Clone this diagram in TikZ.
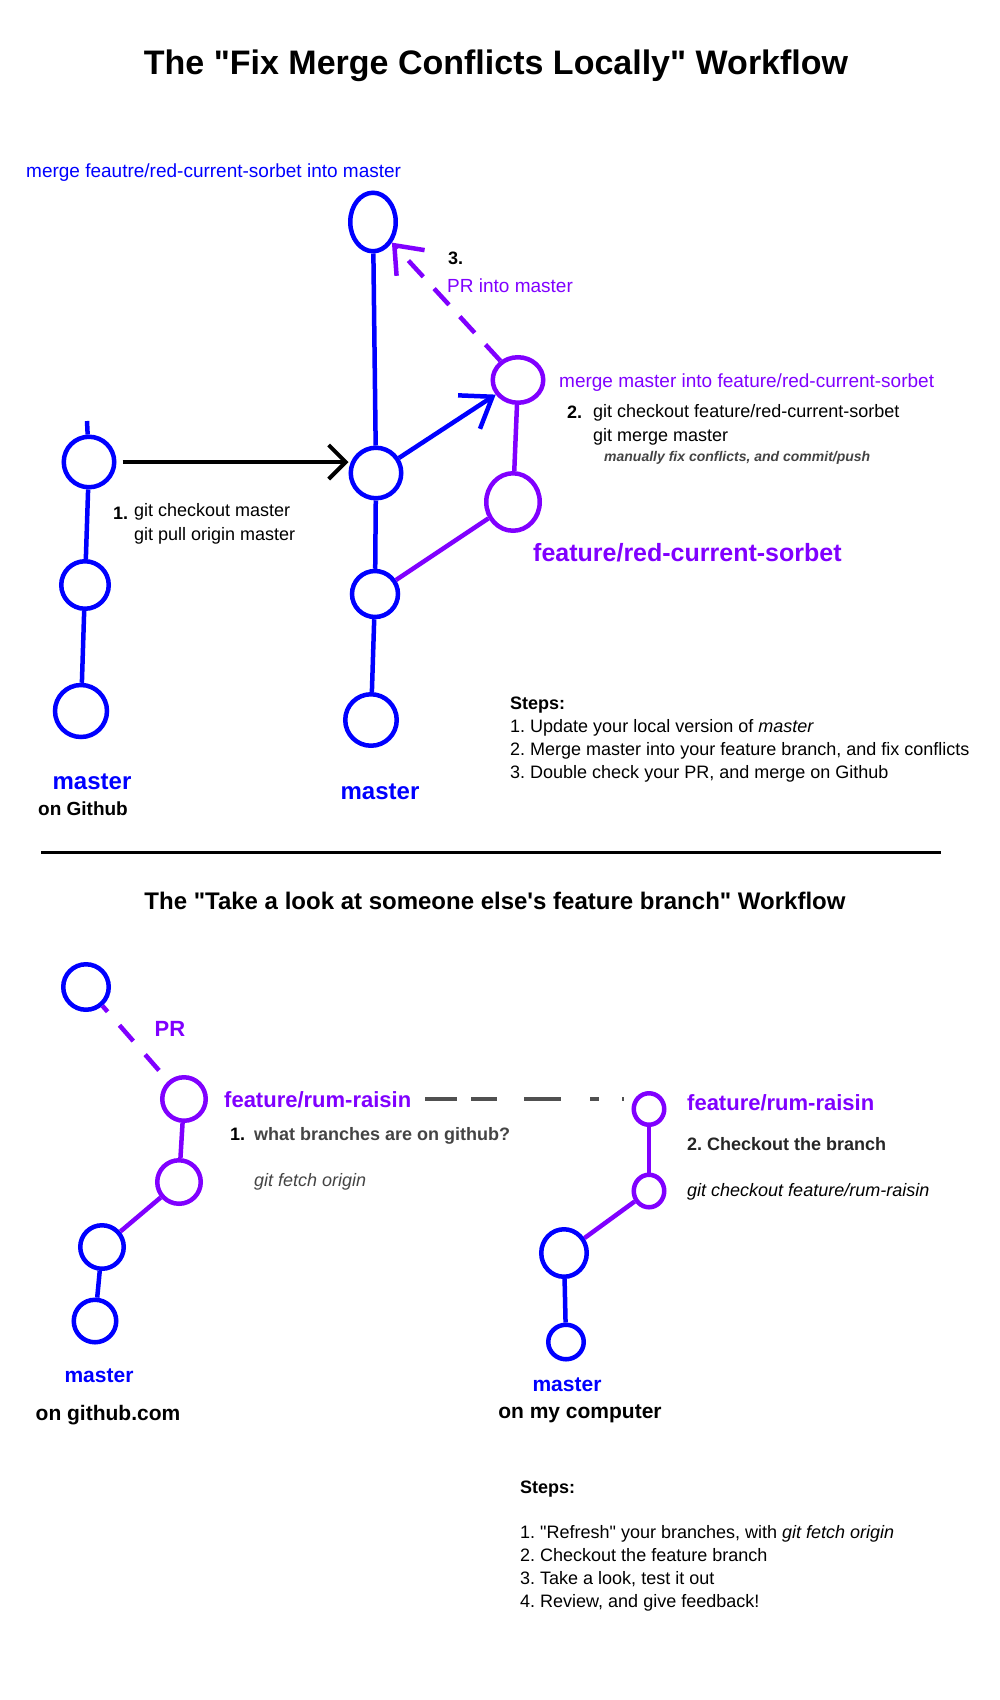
\documentclass[tikz,border=0pt]{standalone}
\usepackage{fontspec}
\setmainfont{Liberation Sans}
\usetikzlibrary{arrows.meta,positioning,shapes.geometric}
\definecolor{gitblue}{HTML}{0000FF}
\definecolor{gitpurple}{HTML}{8000FF}
\definecolor{notegray}{HTML}{444444}
\definecolor{dashgray}{HTML}{505050}
\frenchspacing
\tikzset{
commit/.style={
  ellipse,
  line width=4.5pt,
  inner sep=0pt,
  draw=#1,
  },
commit/.default=gitblue
}
\tikzset{
branchline/.style={
  line width=4.5pt,
  draw=#1,
  },
branchline/.default=gitblue
}
\tikzset{
note/.style={
  inner sep=0pt,
  anchor=base west,
  align=left,
  font=\fontsize{18}{24}\selectfont,
  },
label/.style={
  inner sep=0pt,
  anchor=base west,
  font=\fontsize{19}{23}\selectfont,
  },
branchname/.style={
  inner sep=0pt,
  anchor=base,
  font=\bfseries\fontsize{#1}{#1}\selectfont,
  }
}
\newcommand{\dq}{\textquotedbl}

\begin{document}
\begin{tikzpicture}[x=1pt, y=-1pt]
    \fill[white] (0,0) rectangle (1000,1700);

    % titles
    \node[branchname=34] (title_fix) at (496,74) {The \dq Fix Merge Conflicts Locally\dq{} Workflow};
    \node[branchname=24] (title_look) at (495,909) {The \dq Take a look at someone else\textquotesingle s feature branch\dq{} Workflow};
    \draw[line width=3pt] (41,852) -- (941,852);

    % master on github
    \node[commit, minimum width=50.5pt, minimum height=50.5pt] (gh_c3) at (89,462) {};
    \node[commit, minimum width=47.5pt, minimum height=47.5pt] (gh_c2) at (85,585) {};
    \node[commit, minimum width=52pt, minimum height=52pt] (gh_c1) at (81,711) {};
    \coordinate (gh_top) at (87,421);
    \node[branchname=24, text=gitblue] (gh_name) at (92,789) {master};
    \node[branchname=19] (gh_where) at (83,815) {on Github};

    % local master
    \node[commit, minimum width=45.5pt, minimum height=58.5pt] (loc_c4) at (373,222) {};
    \node[commit, minimum width=50.5pt, minimum height=50.5pt] (loc_c3) at (376,473) {};
    \node[commit, minimum width=46pt, minimum height=46pt] (loc_c2) at (375,594) {};
    \node[commit, minimum width=51.5pt, minimum height=51.5pt] (loc_c1) at (371,720) {};
    \node[branchname=24, text=gitblue] (loc_name) at (380,799) {master};

    % feature branch
    \node[commit=gitpurple, minimum width=53.5pt, minimum height=57.5pt] (feat_c1) at (513,502) {};
    \node[commit=gitpurple, minimum width=50.5pt, minimum height=45.5pt] (feat_c2) at (518,380) {};
    \node[branchname=25, text=gitpurple, anchor=base west] (feat_name) at (533,561) {feature/red-current-sorbet};

    % labels
    \node[label, text=gitblue] (merge_into_master) at (26,177) {merge feautre/red-current-sorbet into master};
    \node[label, text=gitpurple] (merge_into_feat) at (559,387) {merge master into feature/red-current-sorbet};
    \node[label, text=gitpurple] (pr_label) at (447,292) {PR into master};
    \node[note, font=\bfseries\fontsize{18}{24}\selectfont] (step3_num) at (448,264) {3.};
    \node[note, font=\bfseries\fontsize{18}{24}\selectfont] (step1_num) at (113,519) {1.};
    \node[note] (step1_cmd) at (134,540) {git checkout master\\git pull origin master};
    \node[note, font=\bfseries\fontsize{18}{24}\selectfont] (step2_num) at (567,418) {2.};
    \node[note] (step2_cmd) at (593,441) {git checkout feature/red-current-sorbet\\git merge master};
    \node[note, text=notegray, font=\bfseries\itshape\fontsize{14}{16}\selectfont] (step2_hint) at (604,461) {manually fix conflicts, and commit/push};
    \node[note, font=\fontsize{18}{22.7}\selectfont] (steps_fix) at (510,778) {\textbf{Steps:}\\
      1. Update your local version of \textit{master}\\
      2. Merge master into your feature branch, and fix conflicts\\
      3. Double check your PR, and merge on Github};

    % edges
    \draw[branchline] (gh_top) -- (gh_c3);
    \draw[branchline] (gh_c3) -- (gh_c2);
    \draw[branchline] (gh_c2) -- (gh_c1);
    \draw[branchline] (loc_c4) -- (loc_c3);
    \draw[branchline] (loc_c3) -- (loc_c2);
    \draw[branchline] (loc_c2) -- (loc_c1);
    \draw[branchline=gitpurple] (loc_c2) -- (feat_c1);
    \draw[branchline=gitpurple] (feat_c1) -- (feat_c2);
    \draw[line width=4pt, shorten <=6pt, -{Straight Barb[length=17pt, width=34pt]}] (gh_c3.east) -- (gh_c3.east -| loc_c3.west);
    \draw[branchline, -{Straight Barb[length=28pt, width=40pt]}] (loc_c3) -- (feat_c2);
    \draw[branchline=gitpurple, dash pattern=on 22pt off 16pt, -{Straight Barb[length=24pt, width=38pt]}] (feat_c2) -- (loc_c4);

    % github.com
    \node[commit, minimum width=45.5pt, minimum height=45.5pt] (web_c3) at (86,987) {};
    \node[commit=gitpurple, minimum width=43.5pt, minimum height=43.5pt] (rum_c2) at (184,1099) {};
    \node[commit=gitpurple, minimum width=43.5pt, minimum height=43.5pt] (rum_c1) at (179,1182) {};
    \node[commit, minimum width=43.5pt, minimum height=43.5pt] (web_c2) at (102,1247) {};
    \node[commit, minimum width=42.5pt, minimum height=42.5pt] (web_c1) at (95,1321) {};
    \node[branchname=22, text=gitpurple] (pr_name) at (170,1036) {PR};
    \node[branchname=22, text=gitpurple, anchor=base west] (rum_name) at (224,1107) {feature/rum-raisin};
    \node[branchname=21, text=gitblue] (web_name) at (99,1382) {master};
    \node[branchname=21] (web_where) at (108,1420) {on github.com};
    \node[note, font=\bfseries\fontsize{18}{24}\selectfont] (fetch_num) at (230,1140) {1.};
    \node[note, text=notegray, font=\bfseries\fontsize{18}{24}\selectfont] (fetch_ask) at (254,1140) {what branches are on github?};
    \node[note, text=notegray, font=\itshape\fontsize{18}{24}\selectfont] (fetch_cmd) at (254,1186) {git fetch origin};

    % my computer
    \node[commit=gitpurple, minimum width=30.5pt, minimum height=31.5pt] (my_rum_c2) at (649,1109) {};
    \node[commit=gitpurple, minimum width=30.5pt, minimum height=32.5pt] (my_rum_c1) at (649,1191) {};
    \node[commit, minimum width=45.5pt, minimum height=47.5pt] (my_c2) at (564,1253) {};
    \node[commit, minimum width=35.5pt, minimum height=34.5pt] (my_c1) at (566,1342) {};
    \node[branchname=22, text=gitpurple, anchor=base west] (my_rum_name) at (687,1110) {feature/rum-raisin};
    \node[note, text=black!85, font=\bfseries\fontsize{18}{24}\selectfont] (checkout_step) at (687,1150) {2. Checkout the branch};
    \node[note, font=\itshape\fontsize{18}{24}\selectfont] (checkout_cmd) at (687,1196) {git checkout feature/rum-raisin};
    \node[branchname=21, text=gitblue] (my_name) at (567,1391) {master};
    \node[branchname=21] (my_where) at (580,1418) {on my computer};
    \node[note, font=\fontsize{18}{22.7}\selectfont] (steps_look) at (520,1607) {\textbf{Steps:}\\[22.7pt]
      1. \dq Refresh\dq{} your branches, with \textit{git fetch origin}\\
      2. Checkout the feature branch\\
      3. Take a look, test it out\\
      4. Review, and give feedback!};

    % edges
    \draw[branchline=gitpurple, dash pattern=on 21pt off 18pt, shorten <=14pt] (rum_c2) -- (web_c3);
    \draw[branchline=gitpurple] (rum_c2) -- (rum_c1);
    \draw[branchline=gitpurple] (rum_c1) -- (web_c2);
    \draw[branchline] (web_c2) -- (web_c1);
    \draw[line width=4pt, draw=dashgray, shorten <=14pt, shorten >=8pt,
      dash pattern=on 32pt off 14pt on 26pt off 27pt on 37pt off 29pt on 9pt off 23pt on 2pt off 30pt]
      (rum_name.east) -- (rum_name.east -| my_rum_c2.west);
    \draw[branchline=gitpurple] (my_rum_c2) -- (my_rum_c1);
    \draw[branchline=gitpurple] (my_rum_c1) -- (my_c2);
    \draw[branchline] (my_c2) -- (my_c1);
\end{tikzpicture}
\end{document}
